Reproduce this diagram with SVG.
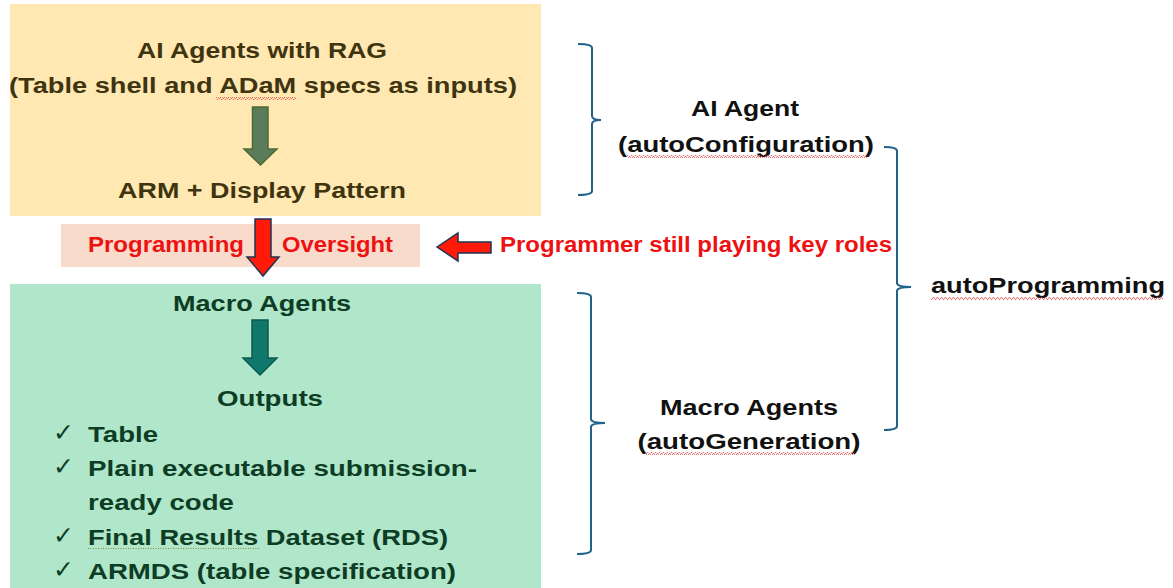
<svg xmlns="http://www.w3.org/2000/svg" width="1173" height="588" viewBox="0 0 1173 588">
<defs>
<pattern id="wavy" x="0" y="0" width="4" height="3" patternUnits="userSpaceOnUse">
<path d="M0,2.5 L1,0.5 L2,0.5 L3,2.5 L4,2.5" fill="none" stroke="#e8575a" stroke-width="0.8"/>
</pattern>
</defs>
<style>
.t{font-family:"Liberation Sans",Arial,sans-serif;font-weight:bold;font-size:22.5px}
.brown{fill:#3f3410}
.dg{fill:#0e3d25}
.blk{fill:#111111}
.red{fill:#ee1111;font-size:22px}
.chk{font-family:"DejaVu Sans",sans-serif;font-size:25px;fill:#0e3d25}
.brace{fill:none;stroke:#21628a;stroke-width:2}
.wave{fill:url(#wavy)}
</style>
<rect width="1173" height="588" fill="#ffffff"/>

<g id="ai-agents-box">
<rect x="10" y="4" width="531" height="212" fill="#ffe8b1"/>
<text class="t brown" x="262" y="58" text-anchor="middle" textLength="250" lengthAdjust="spacingAndGlyphs">AI Agents with RAG</text>
<text class="t brown" x="263" y="93" text-anchor="middle" textLength="508" lengthAdjust="spacingAndGlyphs">(Table shell and ADaM specs as inputs)</text>
<rect class="wave" x="216" y="97" width="80" height="3"/>
<text class="t brown" x="262" y="198" text-anchor="middle" textLength="288" lengthAdjust="spacingAndGlyphs">ARM + Display Pattern</text>
</g>

<g id="oversight-box">
<rect x="61" y="224" width="359" height="43" fill="#f8dbcb"/>
<text class="t red" x="88" y="252" textLength="156" lengthAdjust="spacingAndGlyphs">Programming</text>
<text class="t red" x="282" y="252" textLength="111" lengthAdjust="spacingAndGlyphs">Oversight</text>
</g>

<g id="programmer-note">
<text class="t red" x="500" y="252" textLength="392" lengthAdjust="spacingAndGlyphs">Programmer still playing key roles</text>
</g>

<g id="macro-box">
<rect x="10" y="284" width="531" height="304" fill="#b0e6c9"/>
<text class="t dg" x="262" y="311" text-anchor="middle" textLength="178" lengthAdjust="spacingAndGlyphs">Macro Agents</text>
<text class="t dg" x="270" y="406" text-anchor="middle" textLength="106" lengthAdjust="spacingAndGlyphs">Outputs</text>
<text class="chk" x="53" y="441">✓</text>
<text class="t dg" x="88" y="442" textLength="70" lengthAdjust="spacingAndGlyphs">Table</text>
<text class="chk" x="53" y="475">✓</text>
<text class="t dg" x="88" y="476" textLength="389" lengthAdjust="spacingAndGlyphs">Plain executable submission-</text>
<text class="t dg" x="88" y="510" textLength="146" lengthAdjust="spacingAndGlyphs">ready code</text>
<text class="chk" x="53" y="544">✓</text>
<text class="t dg" x="88" y="545" textLength="360" lengthAdjust="spacingAndGlyphs">Final Results Dataset (RDS)</text>
<line x1="88" y1="548.5" x2="259" y2="548.5" stroke="#8a8a3a" stroke-width="1" stroke-dasharray="1,1.5"/>
<text class="chk" x="53" y="578">✓</text>
<text class="t dg" x="88" y="579" textLength="368" lengthAdjust="spacingAndGlyphs">ARMDS (table specification)</text>
</g>

<g id="ai-agent-label">
<text class="t blk" x="745" y="116" text-anchor="middle" textLength="108" lengthAdjust="spacingAndGlyphs">AI Agent</text>
<text class="t blk" x="746" y="152" text-anchor="middle" textLength="256" lengthAdjust="spacingAndGlyphs">(autoConfiguration)</text>
<rect class="wave" x="627" y="155" width="240" height="3"/>
</g>

<g id="macro-agents-label">
<text class="t blk" x="749" y="415" text-anchor="middle" textLength="178" lengthAdjust="spacingAndGlyphs">Macro Agents</text>
<text class="t blk" x="749" y="449" text-anchor="middle" textLength="223" lengthAdjust="spacingAndGlyphs">(autoGeneration)</text>
<rect class="wave" x="645" y="452" width="210" height="3"/>
</g>

<g id="autoprogramming-label">
<text class="t blk" x="931" y="293" textLength="234" lengthAdjust="spacingAndGlyphs">autoProgramming</text>
<rect class="wave" x="931" y="297" width="232" height="3"/>
</g>

<g id="connectors">
<path d="M252.5,107 H268 V149 H277 L260.5,165 L244,149 H252.5 Z" fill="#5b7c5b" stroke="#4d6a33" stroke-width="1.5"/>
<path d="M255,219 H271 V257 H279 L263,276 L247,257 H255 Z" fill="#ff1a0a" stroke="#1e3550" stroke-width="1.5"/>
<path d="M437,247 L458,233 V242 H491 V253 H458 V261 Z" fill="#ff1a0a" stroke="#1e3550" stroke-width="1.5"/>
<path d="M252,320 H268 V358 H277 L260,375 L243,358 H252 Z" fill="#10776b" stroke="#0c5a50" stroke-width="1.5"/>
<path class="brace" d="M578,44 Q592,44 592,48 V116 Q592,120 601,120 Q592,120 592,124 V191 Q592,195 578,195"/>
<path class="brace" d="M884,147 Q897,147 897,151 V283 Q897,287 911,287 Q897,287 897,291 V426 Q897,430 884,430"/>
<path class="brace" d="M577,293 Q591,293 591,297 V419 Q591,423 605,423 Q591,423 591,427 V550 Q591,554 577,554"/>
</g>
</svg>
